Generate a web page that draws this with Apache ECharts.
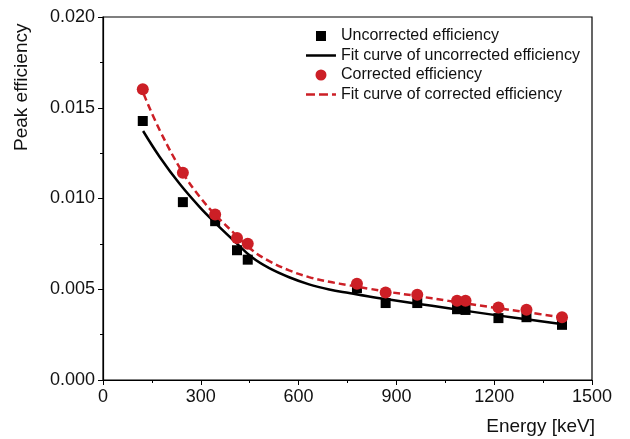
<!DOCTYPE html>
<html>
<head>
<meta charset="utf-8">
<script src="https://cdn.jsdelivr.net/npm/echarts@6/dist/echarts.min.js"></script>
<style>html,body{margin:0;padding:0;background:#fff;}#c{width:630px;height:439px;}</style>
</head>
<body>
<div id="c"></div>
<script>
// Measured points (Energy keV)
const energies = [122, 245, 344, 411, 444, 779, 867, 964, 1086, 1112, 1213, 1299, 1408];
const uncorrected = [0.01427, 0.00980, 0.00875, 0.00715, 0.00663, 0.00507, 0.00424, 0.00424, 0.00390, 0.00386, 0.00341, 0.00346, 0.00304];
const corrected = [0.01602, 0.01142, 0.00912, 0.00783, 0.00751, 0.00530, 0.00482, 0.00470, 0.00436, 0.00436, 0.00400, 0.00387, 0.00346];

// Fit curves
const uncorrectedFitE = [123, 174, 235, 296, 344, 403, 459, 510, 571, 632, 694, 755, 816, 877, 958, 1060, 1210, 1305, 1405];
const uncorrectedFit = [0.01372, 0.01229, 0.01081, 0.00954, 0.00866, 0.00765, 0.00673, 0.00616, 0.00566, 0.00527, 0.00499, 0.00479, 0.00460, 0.00443, 0.00422, 0.00395, 0.00356, 0.00333, 0.00308];
const correctedFitE = [125, 174, 245, 296, 344, 403, 459, 510, 571, 632, 694, 755, 816, 877, 958, 1060, 1210, 1305, 1405];
const correctedFit = [0.01575, 0.01376, 0.01141, 0.01011, 0.00911, 0.00807, 0.00713, 0.00655, 0.00604, 0.00567, 0.00541, 0.00522, 0.00503, 0.00485, 0.00464, 0.00436, 0.00396, 0.00372, 0.00346];

const seriesNames = ['Uncorrected efficiency', 'Fit curve of uncorrected efficiency', 'Corrected efficiency', 'Fit curve of corrected efficiency'];
const xAxisName = 'Energy [keV]';
const yAxisName = 'Peak efficiency';

const zip = (a, b) => a.map((v, i) => [v, b[i]]);
const RED = '#cc1f26';
const FONT = '"Liberation Sans", Arial, sans-serif';

// legend icons: invisible corner dots fix the 30x12 box so shapes keep their size
const BOX = 'M0,0h0.01v0.01h-0.01zM30,12h0.01v0.01h-0.01z';
const iconSquare = 'path://' + BOX + 'M10,1h10v10h-10z';
const iconCircle = 'path://' + BOX + 'M15,0.5a5.5,5.5 0 1,0 0.001,0z';
const iconLine = 'path://' + BOX + 'M0,4.8h30v2.4h-30z';
const iconDash = 'path://' + BOX + 'M0,4.8h9v2.4h-9zM13,4.8h9v2.4h-9zM26,4.8h4v2.4h-4z';

const chart = echarts.init(document.getElementById('c'), null, {renderer: 'canvas'});
chart.setOption({
  animation: false,
  backgroundColor: '#fff',
  textStyle: {fontFamily: FONT},
  grid: {left: 103, right: 38, top: 17, bottom: 59, show: true, borderColor: '#000', borderWidth: 1.2, backgroundColor: 'transparent'},
  legend: {
    orient: 'vertical', left: 301, top: 23,
    itemWidth: 30, itemHeight: 12, itemGap: 3.5,
    textStyle: {fontSize: 16, color: '#111', fontFamily: FONT},
    data: [
      {name: seriesNames[0], icon: iconSquare, itemStyle: {color: '#000'}},
      {name: seriesNames[1], icon: iconLine, itemStyle: {color: '#000'}},
      {name: seriesNames[2], icon: iconCircle, itemStyle: {color: RED}},
      {name: seriesNames[3], icon: iconDash, itemStyle: {color: RED}}
    ]
  },
  xAxis: {
    type: 'value', min: 0, max: 1500, interval: 300,
    name: xAxisName, nameLocation: 'end', nameGap: 3,
    nameTextStyle: {fontSize: 19, color: '#111', align: 'right', verticalAlign: 'top', padding: [37, 0, 0, 0], fontFamily: FONT},
    axisLine: {show: true, lineStyle: {color: '#000', width: 1.2}},
    axisTick: {show: true, inside: false, length: 5, lineStyle: {color: '#000'}},
    minorTick: {show: true, splitNumber: 2, length: 3, lineStyle: {color: '#000'}},
    axisLabel: {fontSize: 18, color: '#111', margin: 8, fontFamily: FONT, formatter: v => String(v)},
    splitLine: {show: false}
  },
  yAxis: {
    type: 'value', min: 0, max: 0.02, interval: 0.005,
    axisLine: {show: true, lineStyle: {color: '#000', width: 1.2}},
    axisTick: {show: true, inside: false, length: 5, lineStyle: {color: '#000'}},
    minorTick: {show: true, splitNumber: 2, length: 3, lineStyle: {color: '#000'}},
    axisLabel: {fontSize: 18, color: '#111', margin: 8, fontFamily: FONT, formatter: v => v.toFixed(3)},
    splitLine: {show: false}
  },
  graphic: [{
    type: 'text', x: 22, y: 151, rotation: Math.PI / 2,
    style: {text: yAxisName, fontSize: 19, fill: '#111', fontFamily: FONT, align: 'left', verticalAlign: 'middle'}
  }],
  series: [
    {
      name: seriesNames[0], type: 'scatter', symbol: 'rect', symbolSize: 10,
      itemStyle: {color: '#000', opacity: 1}, data: zip(energies, uncorrected), z: 2
    },
    {
      name: seriesNames[1], type: 'line', smooth: 0.4, showSymbol: false, symbol: 'none',
      lineStyle: {color: '#000', width: 2.5}, itemStyle: {color: '#000'},
      data: zip(uncorrectedFitE, uncorrectedFit), z: 3
    },
    {
      name: seriesNames[2], type: 'scatter', symbol: 'circle', symbolSize: 12,
      itemStyle: {color: RED, opacity: 1}, data: zip(energies, corrected), z: 4
    },
    {
      name: seriesNames[3], type: 'line', smooth: 0.4, showSymbol: false, symbol: 'none',
      lineStyle: {color: RED, width: 2.5, type: [7, 4]}, itemStyle: {color: RED},
      data: zip(correctedFitE, correctedFit), z: 5
    }
  ]
});
</script>
</body>
</html>
